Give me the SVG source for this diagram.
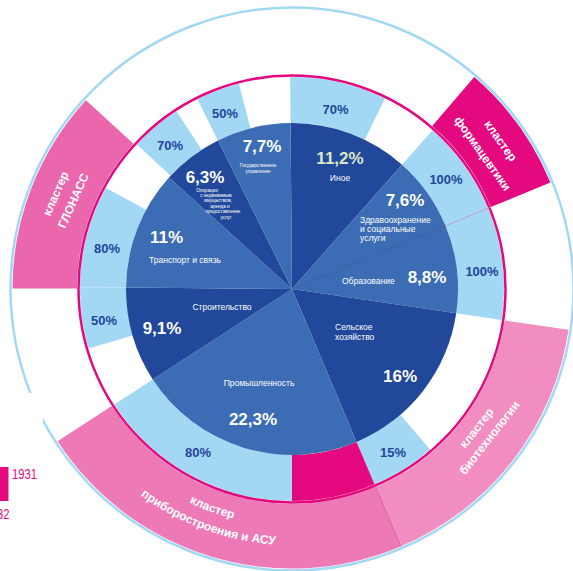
<svg xmlns="http://www.w3.org/2000/svg" width="573" height="571" viewBox="0 0 573 571">
<style>
text{font-family:"Liberation Sans",Arial,sans-serif}
.dk{fill:#21489a}
.md{fill:#3b6cb4}
.lb{fill:#a3d8f5}
.mg{fill:#e4097f}
.pc{font-weight:bold;font-size:13px;fill:#22459a;text-anchor:middle}
.big{font-weight:bold;font-size:17px;fill:#fff;text-anchor:middle}
.sm{font-size:8.5px;fill:#fff}
.xs{font-size:4.6px;fill:#fff;text-anchor:middle}
.cl{font-weight:bold;font-size:12px;fill:#fff;text-anchor:middle}
</style>
<rect width="573" height="571" fill="#fff"/>
<circle cx="292" cy="289" r="281.5" fill="none" stroke="#a3d8f5" stroke-width="2.5"/>

<g id="clusters">
<g id="cl-glonass">
<path d="M12.50,288.51 A279.5,279.5 0 0 1 85.93,100.17 L133.48,143.75 A215,215 0 0 0 77.00,288.62 Z" fill="#ea66ad"/>
<text class="cl" transform="translate(55.6,193.5) rotate(-66)" dy="0.35em">кластер</text>
<text class="cl" transform="translate(73.2,200.6) rotate(-66)" dy="0.35em">ГЛОНАСС</text>
</g>
<g id="cl-pharma">
<path d="M474.26,77.10 A279.5,279.5 0 0 1 550.41,182.49 L490.78,207.07 A215,215 0 0 0 432.20,126.00 Z" fill="#e4097f"/>
<text class="cl" transform="translate(500.7,140.7) rotate(54.6)" dy="0.35em">кластер</text>
<text class="cl" transform="translate(482.7,153.4) rotate(54.6)" dy="0.35em">формацевтики</text>
</g>
<g id="cl-bio">
<path d="M568.50,329.83 A279.5,279.5 0 0 1 400.76,546.47 L375.66,487.06 A215,215 0 0 0 504.69,320.41 Z" fill="#f18dc1"/>
<text class="cl" transform="translate(476.5,428) rotate(-52)" dy="0.35em">кластер</text>
<text class="cl" transform="translate(489.3,437.6) rotate(-52)" dy="0.35em">биотехнологии</text>
</g>
<g id="cl-pribor">
<path d="M400.76,546.47 A279.5,279.5 0 0 1 57.59,441.23 L111.69,406.10 A215,215 0 0 0 375.66,487.06 Z" fill="#ee79b7"/>
<path id="arc1" d="M69.29,370.06 A237,237 0 0 0 410.5,494.25" fill="none"/>
<path id="arc2" d="M51.44,376.56 A256,256 0 0 0 420,510.70" fill="none"/>
<text class="cl"><textPath href="#arc1" startOffset="50%">кластер</textPath></text>
<text class="cl"><textPath href="#arc2" startOffset="50%">приборостроения и АСУ</textPath></text>
</g>
</g>

<g id="ring">
<path class="lb" d="M290.15,77.01 A212,212 0 0 1 384.93,98.46 L364.77,139.80 A166,166 0 0 0 290.55,123.01 Z"/>
<path class="lb" d="M432.48,130.22 A212,212 0 0 1 501.73,319.97 L456.22,313.25 A166,166 0 0 0 402.0,164.67 Z"/>
<path class="lb" d="M430.25,449.72 A212,212 0 0 1 374.49,484.29 L356.59,441.92 A166,166 0 0 0 400.25,414.85 Z"/>
<path class="lb" d="M292,501 A212,212 0 0 1 114.20,404.46 L152.78,379.41 A166,166 0 0 0 292,455 Z"/>
<path class="lb" d="M88.52,348.50 A212,212 0 0 1 105.69,187.84 L146.12,209.79 A166,166 0 0 0 132.67,335.59 Z"/>
<path class="lb" d="M136.95,144.42 A212,212 0 0 1 176.54,111.20 L201.59,149.78 A166,166 0 0 0 170.60,175.79 Z"/>
<path class="lb" d="M197.41,99.27 A212,212 0 0 1 238.92,83.75 L250.44,128.29 A166,166 0 0 0 217.93,140.44 Z"/>
<path class="mg" d="M374.49,484.29 A212,212 0 0 1 292,501 L292,455 A166,166 0 0 0 356.59,441.92 Z"/>
<text class="pc" x="335.5" y="113.5">70%</text>
<text class="pc" x="446" y="183.5">100%</text>
<text class="pc" x="482" y="275.5">100%</text>
<text class="pc" x="393" y="456.5">15%</text>
<text class="pc" x="198" y="456.5">80%</text>
<text class="pc" x="104" y="324.5">50%</text>
<text class="pc" x="107" y="252.5">80%</text>
<text class="pc" x="170" y="149.5">70%</text>
<text class="pc" x="225" y="117.5">50%</text>
</g>

<circle cx="292" cy="289" r="213.5" fill="none" stroke="#e4097f" stroke-width="2.5"/>

<g id="pie">
<g id="s-inoe">
<path class="dk" d="M292,289 L290.55,123.01 A166,166 0 0 1 402.0,164.67 Z"/>
<text class="big" x="340" y="164" fill="#dbe8c6" style="fill:#dbe8c6">11,2%</text>
<text class="sm" x="340" y="181" text-anchor="middle" font-size="9.5">Иное</text>
</g>
<g id="s-health">
<path class="md" d="M292,289 L402.0,164.67 A166,166 0 0 1 445.48,225.74 Z"/>
<text class="big" x="405" y="206">7,6%</text>
<text class="sm" x="360" y="223">Здравоохранение</text>
<text class="sm" x="360" y="232">и социальные</text>
<text class="sm" x="360" y="241">услуги</text>
</g>
<g id="s-edu">
<path class="md" d="M292,289 L445.48,225.74 A166,166 0 0 1 456.22,313.25 Z"/>
<text class="big" x="427" y="283">8,8%</text>
<text class="sm" x="342" y="284">Образование</text>
</g>
<g id="s-agri">
<path class="dk" d="M292,289 L456.22,313.25 A166,166 0 0 1 356.59,441.92 Z"/>
<text class="sm" x="335" y="330">Сельское</text>
<text class="sm" x="335" y="340">хозяйство</text>
<text class="big" x="400" y="382">16%</text>
</g>
<g id="s-industry">
<path class="md" d="M292,289 L356.59,441.92 A166,166 0 0 1 152.78,379.41 Z"/>
<text class="sm" x="259" y="386" text-anchor="middle">Промышленность</text>
<text class="big" x="253" y="425">22,3%</text>
</g>
<g id="s-build">
<path class="dk" d="M292,289 L152.78,379.41 A166,166 0 0 1 126.01,287.55 Z"/>
<text class="sm" x="222" y="310" text-anchor="middle">Строительство</text>
<text class="big" x="162" y="334">9,1%</text>
</g>
<g id="s-transport">
<path class="md" d="M292,289 L126.01,287.55 A166,166 0 0 1 169.03,177.49 Z"/>
<text class="big" x="166.5" y="243">11%</text>
<text class="sm" x="185" y="263" text-anchor="middle">Транспорт и связь</text>
</g>
<g id="s-realty">
<path class="dk" d="M292,289 L169.03,177.49 A166,166 0 0 1 217.93,140.44 Z"/>
<text class="big" x="205" y="183">6,3%</text>
<text class="xs" x="207" y="192">Операции</text>
<text class="xs" x="216" y="197">с недвижимым</text>
<text class="xs" x="218" y="202">имуществом,</text>
<text class="xs" x="220" y="207.5">аренда и</text>
<text class="xs" x="223" y="213">предоставление</text>
<text class="xs" x="226" y="218.5">услуг</text>
</g>
<g id="s-gov">
<path class="md" d="M292,289 L217.93,140.44 A166,166 0 0 1 290.55,123.01 Z"/>
<text class="big" x="262" y="152">7,7%</text>
<text class="xs" x="258" y="167" font-size="6.5">Государственное</text>
<text class="xs" x="258" y="173" font-size="6.5">управление</text>
</g>
</g>

<g id="connectors">
<line x1="292" y1="289" x2="445.48" y2="225.74" stroke="#2a4f95" stroke-width="0.7"/>
<line x1="445.48" y1="225.74" x2="490.78" y2="207.07" stroke="#d77fb6" stroke-width="0.7"/>
<line x1="126.01" y1="287.55" x2="80.01" y2="287.15" stroke="#fff" stroke-width="0.6" opacity="0.5"/>
<line x1="375.66" y1="487.06" x2="400.76" y2="546.47" stroke="#d9559c" stroke-width="0.8"/>
</g>

<rect x="0" y="393" width="43" height="178" fill="#fff"/>
<g id="legend">
<rect x="0" y="467" width="8.5" height="34" fill="#e4097f"/>
<text x="12" y="479" font-size="15" fill="#e4097f" textLength="25" lengthAdjust="spacingAndGlyphs">1931</text>
<text x="-15.5" y="519" font-size="15" fill="#e4097f" textLength="25" lengthAdjust="spacingAndGlyphs">1932</text>
</g>
</svg>
